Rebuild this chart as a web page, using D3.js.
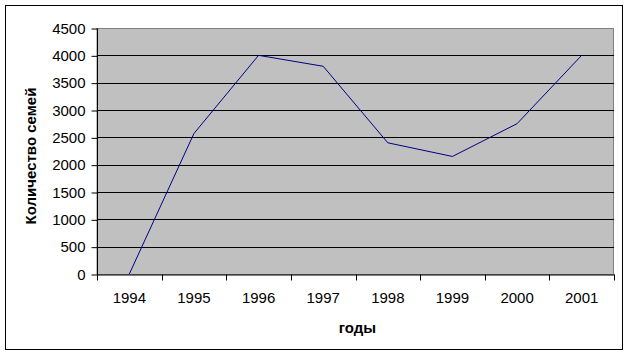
<!DOCTYPE html>
<html>
<head>
<meta charset="utf-8">
<script src="https://cdn.jsdelivr.net/npm/d3@7"></script>
<style>
  body { margin: 0; background: #fff; }
  text { font-family: "Liberation Sans", Arial, sans-serif; }
</style>
</head>
<body>
<div id="main"></div>
<script>
// data
const years = ["1994", "1995", "1996", "1997", "1998", "1999", "2000", "2001"];
const families = [0, 2570, 4000, 3800, 2400, 2150, 2750, 4000];
const yTicks = [0, 500, 1000, 1500, 2000, 2500, 3000, 3500, 4000, 4500];

const w = 629, h = 355;
const plotL = 97, plotR = 614, plotT = 28, plotB = 274;

const svg = d3.select("#main").append("svg")
  .attr("width", w).attr("height", h);

// outer frame
svg.append("rect")
  .attr("x", 5.5).attr("y", 5.5)
  .attr("width", 617).attr("height", 344)
  .attr("fill", "#fff").attr("stroke", "#000");

const xScale = d3.scaleBand().domain(years).range([plotL, plotR]);
const yScale = d3.scaleLinear().domain([0, 4500]).range([plotB, plotT]);

// plot area
svg.append("rect")
  .attr("x", plotL).attr("y", plotT + 0.5)
  .attr("width", plotR - plotL - 0.5).attr("height", plotB - plotT)
  .attr("fill", "#c0c0c0").attr("stroke", "#808080");

// grid lines
svg.selectAll("line.grid")
  .data(yTicks.filter(d => d > 0 && d < 4500))
  .enter().append("line")
  .attr("class", "grid")
  .attr("x1", plotL).attr("x2", plotR)
  .attr("y1", d => Math.round(yScale(d)) + 0.5)
  .attr("y2", d => Math.round(yScale(d)) + 0.5)
  .attr("stroke", "#000");

// y axis
const yAxis = d3.axisLeft(yScale).tickValues(yTicks)
  .tickFormat(d3.format("d")).tickSize(6).tickPadding(6);
const gy = svg.append("g")
  .attr("transform", "translate(" + (plotL + 0.5) + ",0.5)")
  .call(yAxis);

// x axis, ticks between categories
const xAxis = d3.axisBottom(xScale).tickSize(0).tickPadding(18);
const gx = svg.append("g")
  .attr("transform", "translate(0," + (plotB + 0.5) + ")")
  .call(xAxis);
gx.selectAll("line.sep")
  .data(d3.range(years.length + 1))
  .enter().append("line")
  .attr("class", "sep")
  .attr("x1", i => Math.round(plotL + i * xScale.step()) + 0.5)
  .attr("x2", i => Math.round(plotL + i * xScale.step()) + 0.5)
  .attr("y1", 0).attr("y2", 6)
  .attr("stroke", "#000");

[gx, gy].forEach(g => {
  g.select(".domain").attr("stroke", "#000");
  g.selectAll(".tick line").attr("stroke", "#000");
  g.selectAll("text")
    .attr("font-family", "'Liberation Sans', Arial, sans-serif")
    .attr("font-size", 15).attr("fill", "#000");
});
gy.select(".domain").attr("d", "M0," + plotT + "V" + plotB);

// the line
const line = d3.line()
  .x((d, i) => xScale(years[i]) + xScale.bandwidth() / 2)
  .y(d => yScale(d));

svg.append("path")
  .datum(families)
  .attr("d", line)
  .attr("fill", "none")
  .attr("stroke", "#000080")
  .attr("stroke-width", 1);

// axis labels
svg.append("text")
  .attr("transform", "translate(36," + ((plotT + plotB) / 2 + 5) + ") rotate(-90)")
  .attr("text-anchor", "middle")
  .attr("font-weight", "bold")
  .attr("font-size", 15)
  .text("Количество семей");

svg.append("text")
  .attr("x", (plotL + plotR) / 2 + 2)
  .attr("y", 333)
  .attr("text-anchor", "middle")
  .attr("font-weight", "bold")
  .attr("font-size", 15)
  .text("годы");
</script>
</body>
</html>
